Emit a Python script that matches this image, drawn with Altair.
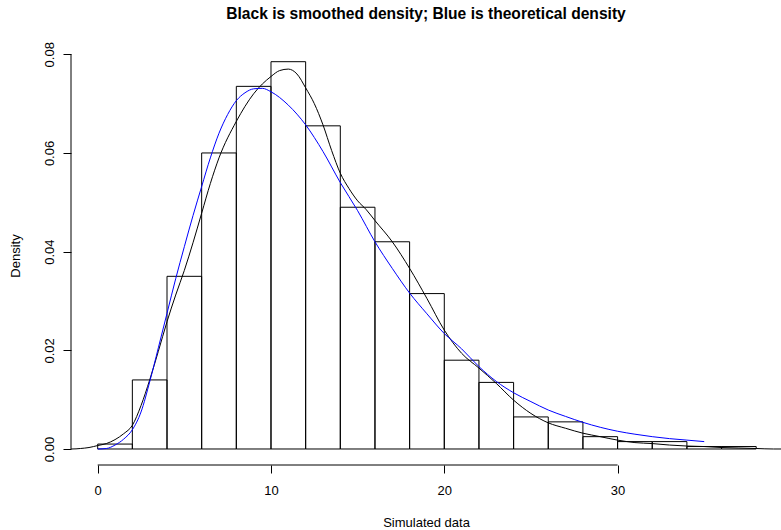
import altair as alt
import pandas as pd

# ---- data ----
bin_start = [0, 2, 4, 6, 8, 10, 12, 14, 16, 18, 20, 22, 24, 26, 28, 30, 32, 34, 36]
bin_end = [2, 4, 6, 8, 10, 12, 14, 16, 18, 20, 22, 24, 26, 28, 30, 32, 34, 36, 38]
density = [0.001, 0.014, 0.035, 0.060, 0.0735, 0.0785, 0.0655, 0.049, 0.042,
           0.0315, 0.018, 0.0135, 0.0065, 0.0055, 0.0025, 0.0015, 0.0015,
           0.0005, 0.0005]

smooth_x = [-2.0, -1.5, -1.0, -0.5, 0.0, 0.5, 1.0, 1.5, 2.0, 2.5, 3.0, 3.5, 4.0,
            4.5, 5.0, 5.5, 6.0, 6.5, 7.0, 8.0, 9.0, 10.0, 10.5, 11.0, 11.5,
            12.0, 12.5, 13.0, 13.5, 14.0, 14.5, 15.0, 15.5, 16.0, 17.0, 18.0,
            19.0, 20.0, 21.0, 22.0, 23.0, 24.0, 25.0, 26.0, 27.0, 28.0, 29.0,
            30.0, 31.0, 32.0, 33.0, 34.0, 35.0, 36.0, 37.0, 38.0, 39.0, 40.0]
smooth_y = [0.0, 0.0, 0.0001, 0.0003, 0.0007, 0.0011, 0.0019, 0.0031, 0.0048,
            0.0088, 0.0140, 0.0198, 0.0258, 0.0312, 0.0362, 0.0418, 0.0478,
            0.0538, 0.0590, 0.0664, 0.0720, 0.0755, 0.0767, 0.0770, 0.0760,
            0.0732, 0.0700, 0.0657, 0.0605, 0.0559, 0.0528, 0.0503, 0.0485,
            0.0463, 0.0420, 0.0366, 0.0305, 0.0241, 0.0194, 0.0164, 0.0133,
            0.0099, 0.0072, 0.0053, 0.0042, 0.0032, 0.0025, 0.0018, 0.0013,
            0.0011, 0.0008, 0.0006, 0.0005, 0.0003, 0.0002, 0.0001, 0.0,
            0.0]

theory_x = [0.0, 0.5, 1.0, 1.5, 2.0, 2.5, 3.0, 3.5, 4.0, 4.5, 5.0, 5.5, 6.0,
            6.5, 7.0, 7.5, 8.0, 8.5, 9.0, 9.5, 10.0, 11.0, 12.0, 13.0, 14.0,
            15.0, 16.0, 17.0, 18.0, 19.0, 20.0, 21.0, 22.0, 23.0, 24.0, 25.0,
            26.0, 27.0, 28.0, 29.0, 30.0, 31.0, 32.0, 33.0, 34.0, 35.0]
theory_y = [0.0, 0.0001, 0.0008, 0.0020, 0.0039, 0.0075, 0.0136, 0.0205,
            0.0275, 0.0345, 0.0410, 0.0473, 0.0532, 0.0590, 0.0640, 0.0678,
            0.0706, 0.0722, 0.0730, 0.0731, 0.0724, 0.0697, 0.0657, 0.0603,
            0.0540, 0.0483, 0.0420, 0.0366, 0.0316, 0.0274, 0.0234, 0.0203,
            0.0167, 0.0137, 0.0114, 0.0096, 0.0079, 0.0066, 0.0054, 0.0044,
            0.0036, 0.0030, 0.0025, 0.0021, 0.0018, 0.0015]

x_ticks = [0, 10, 20, 30]
y_ticks = [0.00, 0.02, 0.04, 0.06, 0.08]

TITLE = "Black is smoothed density; Blue is theoretical density"
FONT = "Liberation Sans"

bars_df = pd.DataFrame({"start": bin_start, "end": bin_end, "density": density})
smooth_df = pd.DataFrame({"x": smooth_x, "y": smooth_y})
theory_df = pd.DataFrame({"x": theory_x, "y": theory_y})
xaxis_df = pd.DataFrame({"a": [x_ticks[0]], "b": [x_ticks[-1]]})
yaxis_df = pd.DataFrame({"a": [y_ticks[0]], "b": [y_ticks[-1]]})

W, H = 710, 419

xs = alt.Scale(domain=[-1.54, 39.43], nice=False, zero=False)
ys = alt.Scale(domain=[-0.003243, 0.08168], nice=False, zero=False)

x_axis = alt.Axis(values=x_ticks, format="d", domain=False, grid=False,
                  tickSize=8, tickColor="black", tickWidth=1,
                  labelFont=FONT, labelFontSize=13, labelColor="black",
                  labelBaseline="alphabetic", labelPadding=21, labelFlush=False,
                  titleFont=FONT, titleFontSize=13, titleFontWeight="normal",
                  titleColor="black", titleBaseline="alphabetic",
                  titleAlign="center", titleX=W / 2, titleY=61)
y_axis = alt.Axis(values=y_ticks, format=".2f", domain=False, grid=False,
                  tickSize=8, tickColor="black", tickWidth=1,
                  labelFont=FONT, labelFontSize=13, labelColor="black",
                  labelAngle=270, labelAlign="center",
                  labelBaseline="alphabetic", labelPadding=10,
                  labelFlush=False,
                  titleFont=FONT, titleFontSize=13, titleFontWeight="normal",
                  titleColor="black", titleAngle=270, titleAlign="center",
                  titleBaseline="alphabetic", titleX=-52, titleY=H / 2)


def X(f):
    return alt.X(f, type="quantitative", scale=xs, axis=x_axis,
                 title="Simulated data")


def Y(f):
    return alt.Y(f, type="quantitative", scale=ys, axis=y_axis,
                 title="Density")


bars = alt.Chart(bars_df).mark_rect(
    fill="transparent", stroke="black", strokeWidth=1
).encode(x=X("start"), x2="end", y=Y("density"), y2=alt.datum(0))

smooth = alt.Chart(smooth_df).mark_line(
    color="black", strokeWidth=1, interpolate="monotone", clip=True
).encode(x=X("x"), y=Y("y"))

theory = alt.Chart(theory_df).mark_line(
    color="#0000FF", strokeWidth=1, interpolate="monotone", clip=True
).encode(x=X("x"), y=Y("y"))

x_line = alt.Chart(xaxis_df).mark_rule(color="black", strokeWidth=1).encode(
    x=X("a"), x2="b", y=alt.value(H)
)
y_line = alt.Chart(yaxis_df).mark_rule(color="black", strokeWidth=1).encode(
    y=Y("a"), y2="b", x=alt.value(0)
)

chart = alt.layer(bars, smooth, theory, x_line, y_line).properties(
    width=W, height=H,
    title=alt.TitleParams(TITLE, font=FONT, fontSize=15.6, fontWeight="bold",
                          color="black", anchor="middle", baseline="alphabetic",
                          offset=7),
    autosize=alt.AutoSizeParams(type="none"),
    padding={"left": 71, "top": 46, "right": 0, "bottom": 65},
    background="white",
).configure_view(strokeWidth=0)

chart.save("out.html", embed_options={"renderer": "svg", "actions": False})
